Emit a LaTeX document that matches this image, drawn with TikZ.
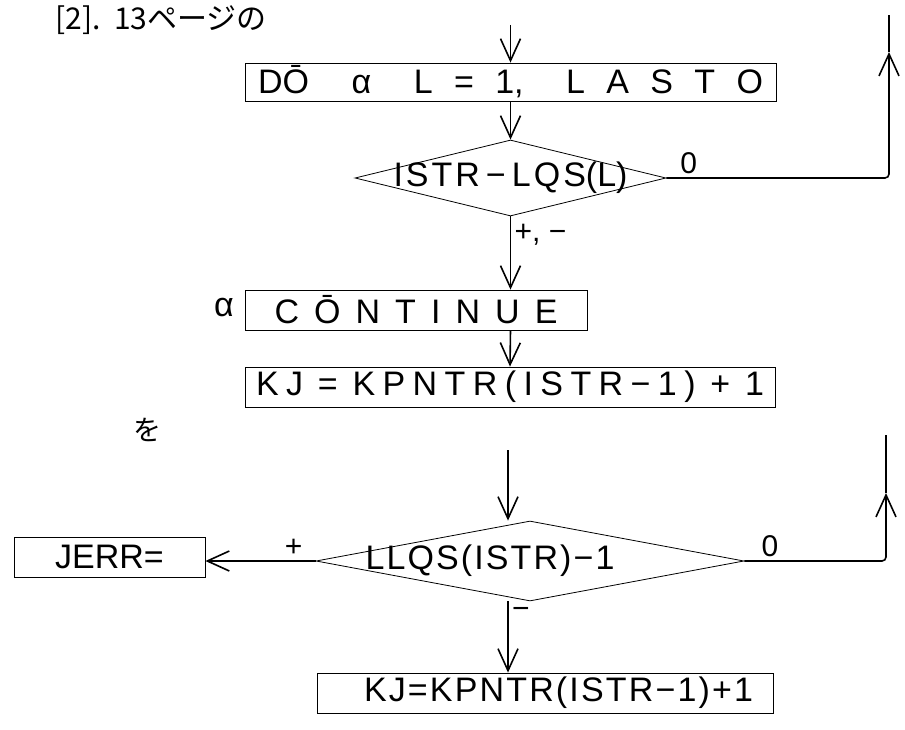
\documentclass[tikz,border=0pt]{standalone}
\usepackage{fontspec}
\setmainfont{Liberation Sans}
\newfontfamily\jpfont{Noto Sans CJK JP}
\usetikzlibrary{arrows.meta, shapes.geometric}
\newcommand{\spaced}[2]{\hbox to #1{#2}}

\begin{document}
\begin{tikzpicture}[x=1pt, y=-1pt,
  box/.style={draw, line width=0.8pt, inner sep=0pt, minimum height=40pt, font=\fontsize{34}{36}\selectfont},
  test/.style={draw, diamond, line width=0.8pt, inner sep=0pt, font=\fontsize{34}{36}\selectfont},
  flow/.style={line width=1.6pt, -{Straight Barb[length=22pt, width=20pt, line width=1.6pt]}},
  line/.style={line width=1.6pt},
  lbl/.style={font=\fontsize{30}{30}\selectfont}]
\useasboundingbox (0,0) rectangle (905,730);
\node[anchor=base west, font=\jpfont\fontsize{30}{30}\selectfont] (head) at (52,30) {[2].\ \ 13ページの};

\coordinate (in1) at (510.5,25);
\coordinate (tip1) at (889,52);
\coordinate (top1) at (889,15);
\node[box, minimum width=531pt, minimum height=38pt] (do) at (510.5,82) {\spaced{505pt}{D\=O\hfill\hfill α\hfill\hfill L\hfill =\hfill 1,\hfill\hfill L\hfill A\hfill S\hfill T\hfill O}\hspace{16pt}};
\node[test, minimum width=311pt, minimum height=76pt] (t1) at (510.5,178) {\makebox[0pt]{\spaced{234pt}{I\hfill S\hfill T\hfill R\hfill\hfill −\hfill\hfill L\hfill Q\hfill S(L)}}};
\node[box, minimum width=342pt] (cont) at (416,310) {\spaced{283pt}{C\hfill \=O\hfill N\hfill T\hfill I\hfill N\hfill U\hfill E}\hspace{35pt}};
\node[font=\fontsize{34}{36}\selectfont] (alpha) at (224,308) {α};
\node[box, minimum width=530pt] (kj1) at (510,387) {\spaced{508pt}{K\hfill J\hfill\hfill =\hfill\hfill K\hfill P\hfill N\hfill T\hfill R\hfill (\hfill I\hfill S\hfill T\hfill R\hfill −\hfill 1\hfill )\hfill\hfill +\hfill\hfill 1}};

\draw[flow] (in1) -- (do.north);
\draw[flow] (do.south) -- (t1.north);
\draw[flow] (t1.south) -- node (pm1) [lbl, anchor=west, pos=0.25] {+, −} (t1.south |- cont.north);
\draw[flow] (t1.south |- cont.south) -- (kj1.north);
\draw[flow, rounded corners=4pt] (t1.east) -- node (zero1) [lbl, above, pos=0.1] {0} (t1.east -| tip1) -- (tip1);
\draw[line] (tip1) -- (top1);

\node[font=\jpfont\fontsize{28}{28}\selectfont] (wo) at (147,430) {を};

\coordinate (in2) at (508,450);
\coordinate (tip2) at (886,493);
\coordinate (top2) at (886,435);
\node[test, minimum width=428pt, minimum height=80pt] (t2) at (530,561) {\makebox[0pt]{\spaced{249pt}{L\hfill L\hfill Q\hfill S\hfill (\hfill I\hfill S\hfill T\hfill R\hfill )\hfill −\hfill 1}\hspace{80pt}}};
\node[box, minimum width=191pt] (jerr) at (109.5,557) {JERR=\hspace{64pt}};
\node[box, minimum width=456pt] (kj2) at (545,693) {\hspace{27pt}\spaced{389pt}{K\hfill J\hfill =\hfill K\hfill P\hfill N\hfill T\hfill R\hfill (\hfill I\hfill S\hfill T\hfill R\hfill −\hfill 1\hfill )\hfill +\hfill 1}};

\draw[flow] (in2) -- (in2 |- t2.north);
\draw[flow] (t2.west) -- node (plus) [lbl, above, pos=0.2] {+} (t2.west -| jerr.east);
\draw[flow, rounded corners=4pt] (t2.east) -- node (zero2) [lbl, above, pos=0.18] {0} (t2.east -| tip2) -- (tip2);
\draw[line] (tip2) -- (top2);
\draw[flow] (in2 |- t2.south) -- node (minus) [lbl, anchor=west, pos=0.16] {−} (in2 |- kj2.north);
\end{tikzpicture}
\end{document}
